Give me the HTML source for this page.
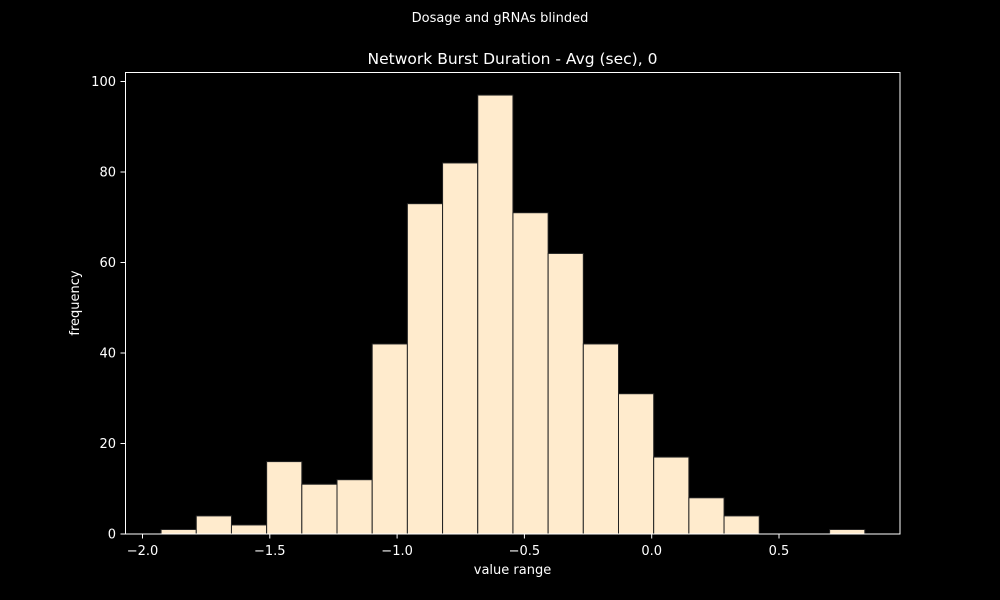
<!DOCTYPE html>
<html><head><meta charset="utf-8"><style>
html,body{margin:0;padding:0;background:#000;overflow:hidden;width:1000px;height:600px;}
svg{display:block;}
svg text{font-family:"DejaVu Sans","Liberation Sans",sans-serif;fill:#fff;}
</style></head><body>
<svg width="1000" height="600">
<rect width="1000" height="600" fill="#000"/>
<text x="500" y="22" font-size="13" text-anchor="middle">Dosage and gRNAs blinded</text>
<text x="512.5" y="64" font-size="15.5" text-anchor="middle">Network Burst Duration - Avg (sec), 0</text>
<g id="bars"></g>
<rect x="125.5" y="72.5" width="774.5" height="461.5" fill="none" stroke="#fff" stroke-width="1"/>
<g id="xt"></g><g id="yt"></g>
<text x="512.5" y="574" font-size="13" text-anchor="middle">value range</text>
<text x="0" y="0" font-size="13" text-anchor="middle" transform="translate(79,303) rotate(-90)">frequency</text>
</svg>
<script>
const binStart=-1.927;
const binWidth=0.1382;
const counts=[1,4,2,16,11,12,42,73,82,97,71,62,42,31,17,8,4,0,0,1];
const xTicks=[-2.0,-1.5,-1.0,-0.5,0.0,0.5];
const xTickLabels=["−2.0","−1.5","−1.0","−0.5","0.0","0.5"];
const yTicks=[0,20,40,60,80,100];
const NS="http://www.w3.org/2000/svg";
const xs=v=>651.7+254.6*v;
const ys=v=>534-4.525*v;
function mk(t,a,p){const e=document.createElementNS(NS,t);for(const k in a)e.setAttribute(k,a[k]);p.appendChild(e);return e;}
const bars=document.getElementById('bars');
counts.forEach((c,i)=>{
 if(c<=0)return;
 const x0=xs(binStart+i*binWidth),x1=xs(binStart+(i+1)*binWidth);
 const r=mk('rect',{x:x0,y:ys(c),width:x1-x0,height:ys(0)-ys(c),fill:'#ffebcd',stroke:'#222','stroke-width':1},bars);
 
 
});
const xt=document.getElementById('xt');
xTicks.forEach((v,i)=>{
 const l=mk('line',{x1:xs(v),x2:xs(v),y1:534,y2:538.5,stroke:'#fff'},xt);
 
 
 const t=mk('text',{x:xs(v),y:555,'font-size':13,'text-anchor':'middle'},xt);
 t.textContent=xTickLabels[i];
 
 
});
const yt=document.getElementById('yt');
yTicks.forEach(v=>{
 const l=mk('line',{x1:120.5,x2:125,y1:ys(v),y2:ys(v),stroke:'#fff'},yt);
 
 
 const t=mk('text',{x:116,y:ys(v)+4.5,'font-size':13,'text-anchor':'end'},yt);
 t.textContent=v;
 
 
});
</script>
</body></html>
